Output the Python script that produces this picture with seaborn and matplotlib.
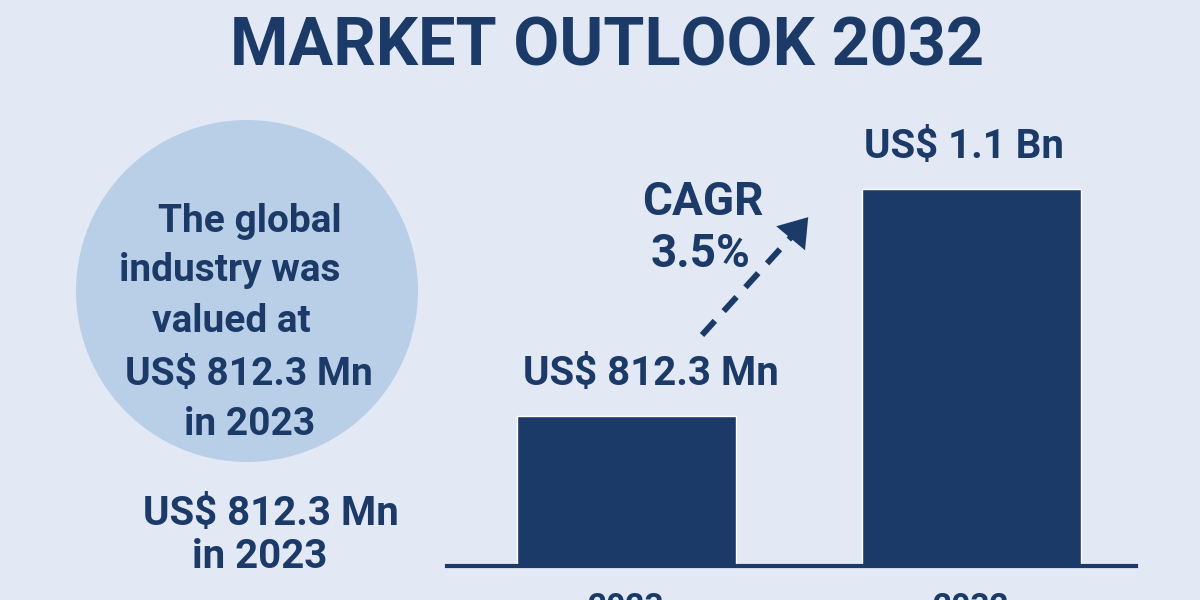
import matplotlib.pyplot as plt
import seaborn as sns
from matplotlib.lines import Line2D
from matplotlib.patches import Circle, FancyArrowPatch

# data
years = ['2023', '2032']
market_value = [812.3, 1100.0]          # US$ Mn
bar_labels = ['US$ 812.3 Mn', 'US$ 1.1 Bn']
cagr_text = ['CAGR', '3.5%']
circle_lines = ['The global', 'industry was', 'valued at', 'US$ 812.3 Mn', 'in 2023']
side_lines = ['US$ 812.3 Mn', 'in 2023']
title = 'MARKET OUTLOOK 2032'

bg = '#e3e9f4'
navy = '#1b3a68'
light = '#b9cfe8'

sns.set_theme(style='white')
plt.rcParams['font.family'] = ['Roboto', 'DejaVu Sans']

fig = plt.figure(figsize=(12, 6), dpi=100, facecolor=bg)


def px(x, y):
    return x / 1200, 1 - y / 600


ax = fig.add_axes([447 / 1200, 34 / 600, 689 / 1200, 466 / 600])
ax.set_facecolor('none')
sns.barplot(x=years, y=market_value, color=navy, saturation=1, width=0.635, ax=ax)
ax.set_xlim(-0.519, 1.478)
ax.set_ylim(622.2, 1212.8)
for s in ['top', 'right', 'left']:
    ax.spines[s].set_visible(False)
ax.spines['bottom'].set_color(navy)
ax.spines['bottom'].set_linewidth(3)
ax.set_yticks([])
ax.set_xlabel('')
ax.set_ylabel('')
ax.tick_params(axis='x', length=0, pad=19, labelsize=24, labelcolor=navy)
for t in ax.get_xticklabels():
    t.set_fontweight('bold')

# value labels on top of the bars
label_dx = [25, -7]
for i, (v, lab) in enumerate(zip(market_value, bar_labels)):
    ax.annotate(lab, (i, v), xytext=(label_dx[i] * 0.72, 22), textcoords='offset points',
                ha='center', va='baseline', fontsize=29, fontweight='bold', color=navy)

# title
fig.text(*px(607, 65), title, ha='center', va='baseline', fontsize=48,
         fontweight='bold', color=navy)

# circle with the summary text
fig.add_artist(Circle((2.47, 3.09), 1.71, transform=fig.dpi_scale_trans,
                      facecolor=light, edgecolor='none', zorder=0))
circle_pos = [(250, 232), (230, 281), (231, 332), (249, 385), (250, 435)]
for (x, y), line in zip(circle_pos, circle_lines):
    fig.text(*px(x, y), line, ha='center', va='baseline', fontsize=28,
             fontweight='bold', color=navy)

side_pos = [(271, 525), (260, 568)]
for (x, y), line in zip(side_pos, side_lines):
    fig.text(*px(x, y), line, ha='center', va='baseline', fontsize=29,
             fontweight='bold', color=navy)

# CAGR note and dashed arrow
for (x, y), line in zip([(703, 215), (701, 267)], cagr_text):
    fig.text(*px(x, y), line, ha='center', va='baseline', fontsize=33,
             fontweight='bold', color=navy)

x0, y0 = px(702, 335)
x1, y1 = px(792, 236)
fig.add_artist(Line2D([x0, x1], [y0, y1], transform=fig.transFigure, color=navy,
                      linewidth=4.3, dashes=(3.2, 2.2), solid_capstyle='butt'))
fig.add_artist(FancyArrowPatch(
    px(790, 239), px(810, 215), transform=fig.transFigure,
    arrowstyle='-|>,head_length=1.1,head_width=0.75', mutation_scale=18,
    color=navy, linewidth=0))

fig.savefig('out.png', dpi=100, facecolor=bg)
